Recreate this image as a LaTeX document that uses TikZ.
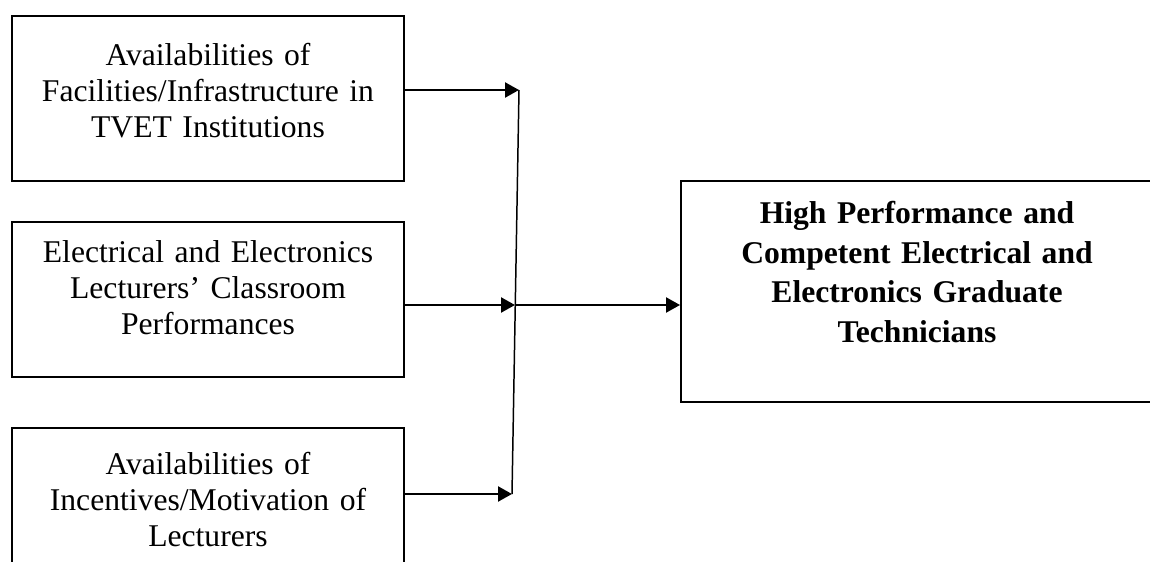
\documentclass[tikz,border=0pt]{standalone}
\usepackage{fontspec}
\setmainfont{Liberation Serif}
\usetikzlibrary{arrows.meta}
\tikzset{
	box/.style={draw=black, line width=1.1pt, rectangle, inner sep=0pt},
	boxtext/.style={black, anchor=north, align=center, inner sep=0pt, font=\fontsize{18pt}{20.5pt}\selectfont},
	goaltext/.style={boxtext, font=\fontsize{18pt}{22.5pt}\selectfont\bfseries},
	link/.style={draw=black, line width=1.3pt, -{Triangle[length=0.28cm,width=0.30cm]}},
	joint/.style={draw=black, line width=0.85pt},
}
\begin{document}
\begin{tikzpicture}
	\useasboundingbox (0.00,0.00) rectangle (23.00,11.22);
	\clip (0.00,0.00) rectangle (23.00,11.22);
	\node[box, minimum width=7.84cm, minimum height=3.30cm] (facilities) at (4.16,9.25) {};
	\node[boxtext, text width=7.80cm] (facilitiesT) at (4.16,10.36) {Availabilities of\\Facilities/Infrastructure in\\TVET Institutions};
	\node[box, minimum width=7.84cm, minimum height=3.10cm] (lecturers) at (4.16,5.23) {};
	\node[boxtext, text width=7.80cm] (lecturersT) at (4.16,6.42) {Electrical and Electronics\\Lecturers’ Classroom\\Performances};
	\node[box, minimum width=7.84cm, minimum height=3.10cm] (incentives) at (4.16,1.11) {};
	\node[boxtext, text width=7.80cm] (incentivesT) at (4.16,2.18) {Availabilities of\\Incentives/Motivation of\\Lecturers};
	\node[box, minimum width=9.44cm, minimum height=4.42cm] (graduates) at (18.34,5.39) {};
	\node[goaltext, text width=9.00cm] (graduatesT) at (18.34,7.20) {High Performance and\\Competent Electrical and\\Electronics Graduate\\Technicians};
	\coordinate (j1) at (10.38,9.42);
	\coordinate (j2) at (10.30,5.12);
	\coordinate (j3) at (10.24,1.34);
	\draw[link] (facilities.east |- j1) -- (j1);
	\draw[link] (lecturers.east |- j2) -- (j2);
	\draw[link] (incentives.east |- j3) -- (j3);
	\draw[joint] (j1) -- (j3);
	\draw[link] (j2) -- (graduates.west |- j2);
\end{tikzpicture}
\end{document}
